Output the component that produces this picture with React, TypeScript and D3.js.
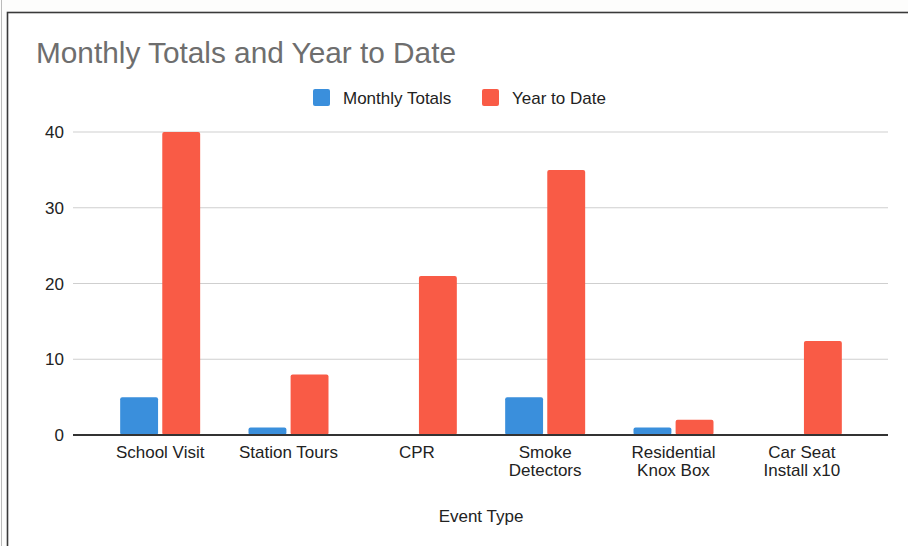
import React from "react";
import * as d3 from "d3";

const categories: string[][] = [
  ["School Visit"],
  ["Station Tours"],
  ["CPR"],
  ["Smoke", "Detectors"],
  ["Residential", "Knox Box"],
  ["Car Seat", "Install x10"],
];
const seriesNames = ["Monthly Totals", "Year to Date"];
const monthlyTotals = [5, 1, 0, 5, 1, 0];
const yearToDate = [40, 8, 21, 35, 2, 12.4];
const yTicks = [0, 10, 20, 30, 40];
const colors = ["#3a8fdc", "#f95b46"];

const W = 908;
const H = 546;
const FONT = "'Liberation Sans', Arial, sans-serif";

export default function App() {
  const keys = categories.map((c) => c.join(" "));
  const x = d3.scalePoint<string>().domain(keys).range([96, 866]).padding(0.5);
  const inner = d3.scaleBand<string>().domain(seriesNames).range([-40, 40]).paddingInner(0.1);
  const y = d3.scaleLinear().domain([0, 40]).range([435, 132]);
  const series = [monthlyTotals, yearToDate];

  return (
    <svg
      width={W}
      height={H}
      style={{ position: "absolute", left: 0, top: 0, background: "#fff" }}
      fontFamily={FONT}
    >
      <rect x={0} y={0} width={W} height={H} fill="#fdfdfc" />
      <line x1={1.5} y1={0} x2={1.5} y2={H} stroke="#bbb" strokeWidth={1} />
      <rect x={7.5} y={12.5} width={W + 20} height={H + 20} fill="#fff" stroke="#3a3a3a" strokeWidth={1.6} />
      <text x={36} y={63} fontSize={29.5} fill="#6e6e6e" textLength={420} lengthAdjust="spacingAndGlyphs">
        Monthly Totals and Year to Date
      </text>
      {/* legend */}
      {[
        { name: seriesNames[0], sx: 313, tx: 343 },
        { name: seriesNames[1], sx: 482, tx: 512 },
      ].map((l, i) => (
        <g key={l.name}>
          <rect x={l.sx} y={89} width={17} height={17} rx={2} fill={colors[i]} />
          <text x={l.tx} y={104} fontSize={17} fill="#222">
            {l.name}
          </text>
        </g>
      ))}
      {/* gridlines */}
      {yTicks.map((t) => (
        <g key={t}>
          {t !== 0 && (
            <line x1={73} x2={888} y1={y(t)} y2={y(t)} stroke="#cfcfcf" strokeWidth={1} />
          )}
          <text x={64} y={y(t) + 6} fontSize={17} textAnchor="end" fill="#222">
            {t}
          </text>
        </g>
      ))}
      {/* bars */}
      {keys.map((k, ci) =>
        series.map((s, si) => {
          const v = s[ci];
          if (!v) return null;
          const bx = (x(k) as number) + (inner(seriesNames[si]) as number);
          return (
            <rect
              key={k + si}
              x={bx}
              y={y(v)}
              width={inner.bandwidth()}
              height={y(0) - y(v)}
              rx={2}
              fill={colors[si]}
            />
          );
        })
      )}
      <line x1={73} x2={888} y1={y(0)} y2={y(0)} stroke="#333" strokeWidth={1.8} />
      {/* x labels */}
      {categories.map((c, ci) => (
        <text key={ci} x={x(keys[ci])} y={458} fontSize={17} textAnchor="middle" fill="#222">
          {c.map((line, li) => (
            <tspan key={li} x={x(keys[ci])} dy={li === 0 ? 0 : 18}>
              {line}
            </tspan>
          ))}
        </text>
      ))}
      <text x={481} y={522} fontSize={17} textAnchor="middle" fill="#222">
        Event Type
      </text>
    </svg>
  );
}
